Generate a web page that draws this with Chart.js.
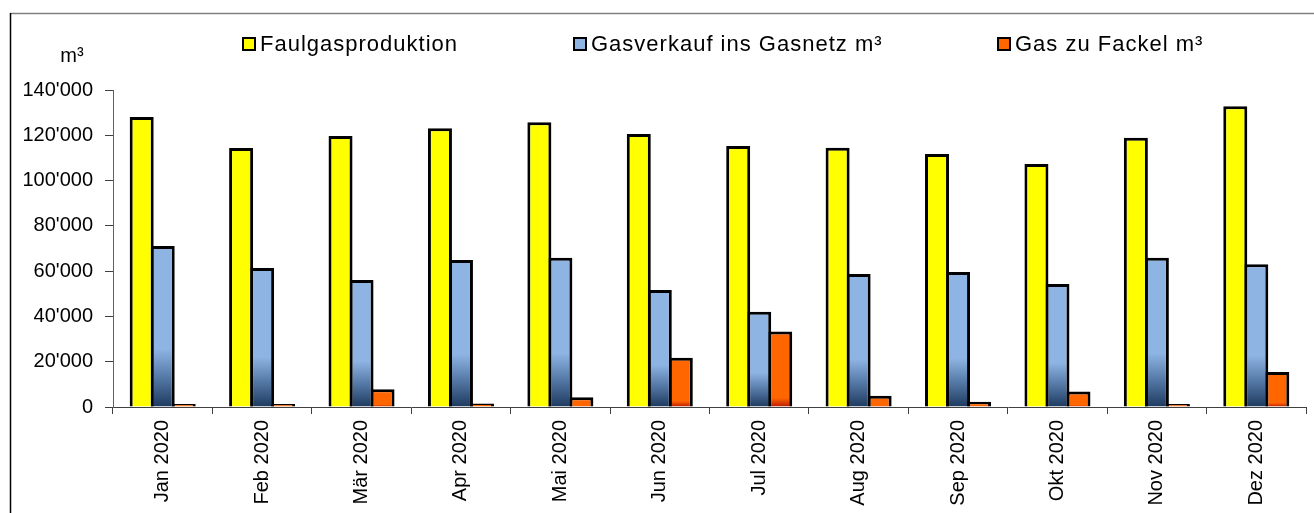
<!DOCTYPE html>
<html>
<head>
<meta charset="utf-8">
<script src="https://cdn.jsdelivr.net/npm/chart.js@4/dist/chart.umd.min.js"></script>
<style>
  html, body { margin: 0; padding: 0; background: #ffffff; }
  #wrap { width: 1314px; height: 513px; position: relative; }
</style>
</head>
<body>
<div id="wrap"><canvas id="c" width="1314" height="513"></canvas></div>
<script>
const categories = ['Jan 2020', 'Feb 2020', 'Mär 2020', 'Apr 2020', 'Mai 2020', 'Jun 2020',
                    'Jul 2020', 'Aug 2020', 'Sep 2020', 'Okt 2020', 'Nov 2020', 'Dez 2020'];
const faulgasproduktion = [128100, 114400, 119700, 123100, 125800, 120600, 115300, 114500, 111700, 107300, 118900, 132800];
const gasverkauf = [71100, 61400, 56100, 64900, 65900, 51700, 42100, 58700, 59600, 54300, 65900, 63000];
const gasFackel = [700, 600, 7800, 1500, 4300, 21800, 33300, 5000, 2300, 6800, 700, 15500];
const seriesNames = ['Faulgasproduktion', 'Gasverkauf ins Gasnetz m³', 'Gas zu Fackel m³'];
const yUnit = 'm³';
const yTicks = [0, 20000, 40000, 60000, 80000, 100000, 120000, 140000];

const FONT = '"Liberation Sans", Arial, sans-serif';
const colYellow = '#FFFF00';
const colBlueLight = '#8EB4E3';
const colBlueDark = '#1E3A5F';
const colOrange = '#FF6600';
const colOrangeDark = '#B81800';

function fmt(v) {
  return String(Math.round(v)).replace(/\B(?=(\d{3})+(?!\d))/g, "'");
}

function barGradient(context, stops, fallback) {
  const chart = context.chart;
  const y = chart.scales && chart.scales.y;
  if (!chart.chartArea || !y || context.parsed === undefined || context.parsed === null) return fallback;
  const v = context.parsed.y;
  const top = y.getPixelForValue(v);
  const bottom = y.getPixelForValue(0);
  if (!isFinite(top) || !isFinite(bottom) || bottom - top < 1) return fallback;
  const g = chart.ctx.createLinearGradient(0, top, 0, bottom);
  stops.forEach(s => g.addColorStop(s[0], s[1]));
  return g;
}

const decorPlugin = {
  id: 'decor',
  beforeDraw(chart) {
    const ctx = chart.ctx;
    ctx.save();
    ctx.fillStyle = '#ffffff';
    ctx.fillRect(0, 0, chart.width, chart.height);
    ctx.strokeStyle = '#808080';
    ctx.lineWidth = 1.5;
    ctx.beginPath();
    ctx.moveTo(10, 13.5);
    ctx.lineTo(chart.width, 13.5);
    ctx.stroke();
    ctx.strokeStyle = '#000000';
    ctx.beginPath();
    ctx.moveTo(10.5, 13);
    ctx.lineTo(10.5, chart.height);
    ctx.stroke();
    ctx.restore();
  },
  afterDraw(chart) {
    const ctx = chart.ctx;
    ctx.save();
    ctx.fillStyle = '#000';
    ctx.font = '20px ' + FONT;
    ctx.textAlign = 'center';
    ctx.textBaseline = 'alphabetic';
    ctx.fillText(yUnit, 72, 62);
    const fills = [colYellow, colBlueLight, colOrange];
    const boxX = [243, 574, 998];
    ctx.font = '22px ' + FONT;
    ctx.textAlign = 'left';
    ctx.textBaseline = 'middle';
    try { ctx.letterSpacing = '1px'; } catch (e) {}
    seriesNames.forEach((name, i) => {
      ctx.fillStyle = fills[i];
      ctx.fillRect(boxX[i], 38, 12, 12);
      ctx.strokeStyle = '#000';
      ctx.lineWidth = 2;
      ctx.strokeRect(boxX[i], 38, 12, 12);
      ctx.fillStyle = '#000';
      ctx.fillText(name, boxX[i] + 17, 45);
    });
    ctx.restore();
  }
};

new Chart(document.getElementById('c'), {
  type: 'bar',
  data: {
    labels: categories,
    datasets: [
      {
        label: seriesNames[0],
        data: faulgasproduktion,
        backgroundColor: colYellow,
        borderColor: '#000',
        borderWidth: 3
      },
      {
        label: seriesNames[1],
        data: gasverkauf,
        backgroundColor: (ctx) => barGradient(ctx, [[0, colBlueLight], [0.64, colBlueLight], [0.8, '#5A7FAD'], [1, colBlueDark]], colBlueLight),
        borderColor: '#000',
        borderWidth: 3
      },
      {
        label: seriesNames[2],
        data: gasFackel,
        backgroundColor: (ctx) => barGradient(ctx, [[0, colOrange], [0.88, colOrange], [1, colOrangeDark]], colOrange),
        borderColor: '#000',
        borderWidth: 3,
        minBarLength: 3
      }
    ]
  },
  options: {
    responsive: false,
    animation: false,
    devicePixelRatio: 1,
    layout: { padding: { top: 90, right: 8, left: 0, bottom: 0 } },
    datasets: { bar: { categoryPercentage: 0.634, barPercentage: 1.143 } },
    plugins: {
      legend: { display: false },
      title: { display: false },
      tooltip: { enabled: false }
    },
    scales: {
      x: {
        offset: true,
        grid: {
          display: true, drawOnChartArea: false, drawTicks: true,
          tickLength: 7, color: '#404040', offset: true
        },
        border: { display: true, color: '#404040', width: 1 },
        ticks: {
          autoSkip: false, minRotation: 90, maxRotation: 90, padding: 6,
          color: '#000', font: { family: FONT, size: 20 }
        },
        afterFit(scale) { scale.height = 106; }
      },
      y: {
        min: 0, max: 140000,
        afterBuildTicks(scale) { scale.ticks = yTicks.map(v => ({ value: v })); },
        grid: {
          display: true, drawOnChartArea: false, drawTicks: true,
          tickLength: 8, color: '#404040'
        },
        border: { display: true, color: '#606060', width: 1 },
        ticks: {
          padding: 12, color: '#000', font: { family: FONT, size: 20 },
          callback: (v) => fmt(v)
        },
        afterFit(scale) { scale.width = 113; }
      }
    }
  },
  plugins: [decorPlugin]
});
</script>
</body>
</html>
